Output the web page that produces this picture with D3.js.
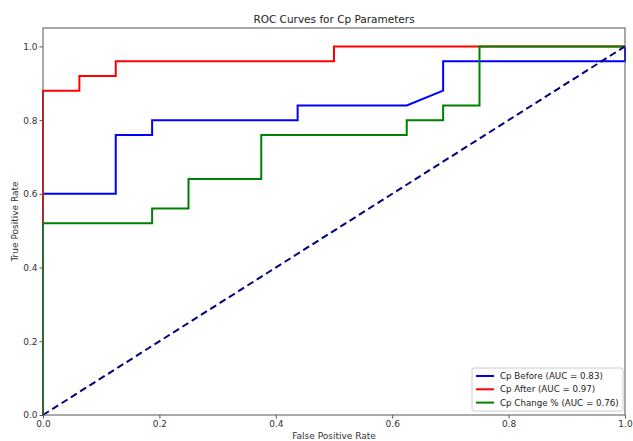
<!DOCTYPE html>
<html>
<head>
<meta charset="utf-8">
<script src="https://cdn.jsdelivr.net/npm/d3@7"></script>
<style>
  body { margin: 0; background: #fff; }
  svg { display: block; font-family: "DejaVu Sans", sans-serif; }
</style>
</head>
<body>
<svg id="drawing_region"></svg>
<script>
// ROC points
const before_fpr = [0, 0, 0.125, 0.125, 0.1875, 0.1875, 0.4375, 0.4375, 0.625, 0.6875, 0.6875, 1.0, 1.0];
const before_tpr = [0, 0.60, 0.60, 0.76, 0.76, 0.80, 0.80, 0.84, 0.84, 0.88, 0.96, 0.96, 1.0];

const after_fpr = [0, 0, 0.0625, 0.0625, 0.125, 0.125, 0.5, 0.5, 1.0];
const after_tpr = [0, 0.88, 0.88, 0.92, 0.92, 0.96, 0.96, 1.0, 1.0];

const change_fpr = [0, 0, 0.1875, 0.1875, 0.25, 0.25, 0.375, 0.375, 0.625, 0.625, 0.6875, 0.6875, 0.75, 0.75, 1.0];
const change_tpr = [0, 0.52, 0.52, 0.56, 0.56, 0.64, 0.64, 0.76, 0.76, 0.80, 0.80, 0.84, 0.84, 1.0, 1.0];

const series_names = ["Cp Before (AUC = 0.83)", "Cp After (AUC = 0.97)", "Cp Change % (AUC = 0.76)"];
const series_colors = ["blue", "red", "green"];

const x_ticks = [0.0, 0.2, 0.4, 0.6, 0.8, 1.0];
const y_ticks = [0.0, 0.2, 0.4, 0.6, 0.8, 1.0];

const config = {
    width: 633,
    height: 441,
    margin: {top: 28, right: 8, bottom: 26, left: 43}
};

const svg = d3.select('#drawing_region')
    .attr('width', config.width)
    .attr('height', config.height);

const inner_width = config.width - config.margin.left - config.margin.right;
const inner_height = config.height - config.margin.top - config.margin.bottom;

const chart = svg.append('g')
    .attr('transform', `translate(${config.margin.left}, ${config.margin.top})`);

const xscale = d3.scaleLinear().domain([0, 1]).range([0, inner_width]);
const yscale = d3.scaleLinear().domain([0, 1.05]).range([inner_height, 0]);

const series = [
    before_fpr.map((x, i) => [x, before_tpr[i]]),
    after_fpr.map((x, i) => [x, after_tpr[i]]),
    change_fpr.map((x, i) => [x, change_tpr[i]])
];

const line = d3.line()
    .x(d => xscale(d[0]))
    .y(d => yscale(d[1]));

chart.selectAll('path.roc')
    .data(series)
    .enter()
    .append('path')
    .attr('class', 'roc')
    .attr('d', line)
    .attr('fill', 'none')
    .attr('stroke', (d, i) => series_colors[i])
    .attr('stroke-width', 2);

// chance line
chart.append('path')
    .attr('d', line([[0, 0], [1, 1]]))
    .attr('fill', 'none')
    .attr('stroke', 'navy')
    .attr('stroke-width', 2)
    .attr('stroke-dasharray', '7,4');

// frame
chart.append('rect')
    .attr('x', 0).attr('y', 0)
    .attr('width', inner_width).attr('height', inner_height)
    .attr('fill', 'none')
    .attr('stroke', '#555')
    .attr('stroke-width', 1);

const xaxis = d3.axisBottom(xscale).tickValues(x_ticks).tickFormat(d3.format('.1f'))
    .tickSizeInner(3.5).tickSizeOuter(0).tickPadding(2);
const yaxis = d3.axisLeft(yscale).tickValues(y_ticks).tickFormat(d3.format('.1f'))
    .tickSizeInner(3.5).tickSizeOuter(0).tickPadding(2);

const xaxis_group = chart.append('g')
    .attr('transform', `translate(0, ${inner_height})`)
    .call(xaxis);
const yaxis_group = chart.append('g')
    .call(yaxis);

[xaxis_group, yaxis_group].forEach(g => {
    g.select('.domain').remove();
    g.selectAll('line').attr('stroke', '#555');
    g.selectAll('text').attr('fill', '#333').attr('font-size', '9px')
        .attr('font-family', '"DejaVu Sans", sans-serif');
});

// title and labels
svg.append('text')
    .attr('x', config.margin.left + inner_width / 2)
    .attr('y', 23)
    .attr('text-anchor', 'middle')
    .attr('font-size', '10.5px')
    .attr('fill', '#222')
    .text('ROC Curves for Cp Parameters');

svg.append('text')
    .attr('x', config.margin.left + inner_width / 2)
    .attr('y', 439)
    .attr('text-anchor', 'middle')
    .attr('font-size', '9px')
    .attr('fill', '#333')
    .text('False Positive Rate');

svg.append('text')
    .attr('transform', `translate(18, ${config.margin.top + inner_height / 2}) rotate(-90)`)
    .attr('text-anchor', 'middle')
    .attr('font-size', '9px')
    .attr('fill', '#333')
    .text('True Positive Rate');

// legend
const legend = svg.append('g')
    .attr('transform', 'translate(472, 368)');

legend.append('rect')
    .attr('width', 151).attr('height', 43)
    .attr('rx', 2)
    .attr('fill', '#fff')
    .attr('fill-opacity', 0.8)
    .attr('stroke', '#ccc');

const items = legend.selectAll('g.item')
    .data(series_names)
    .enter()
    .append('g')
    .attr('transform', (d, i) => `translate(0, ${8 + i * 13.3})`);

items.append('line')
    .attr('x1', 4).attr('x2', 22)
    .attr('stroke', (d, i) => series_colors[i])
    .attr('stroke-width', 2);

items.append('text')
    .attr('x', 28)
    .attr('dy', '0.35em')
    .attr('font-size', '8.7px')
    .attr('fill', '#222')
    .text(d => d);
</script>
</body>
</html>
